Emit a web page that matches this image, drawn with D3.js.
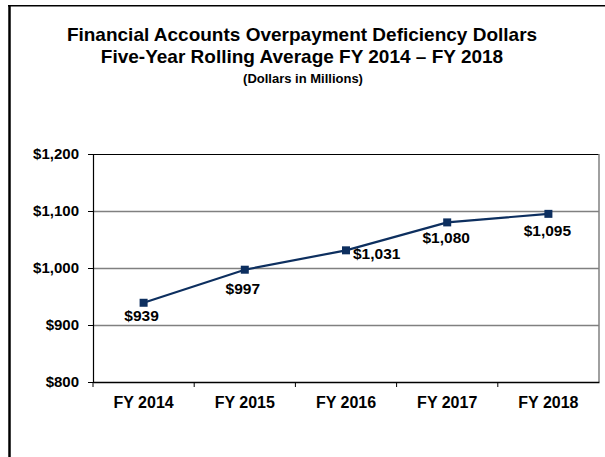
<!DOCTYPE html>
<html>
<head>
<meta charset="utf-8">
<script src="https://cdn.jsdelivr.net/npm/d3@7"></script>
<style>
  body { margin: 0; background: #fff; }
  text { font-family: "Liberation Sans", Arial, sans-serif; font-weight: bold; fill: #000; }
</style>
</head>
<body>
<div id="chart"></div>
<script>
// data
const years = ["FY 2014", "FY 2015", "FY 2016", "FY 2017", "FY 2018"];
const dollars = [939, 997, 1031, 1080, 1095];
const yTicks = [800, 900, 1000, 1100, 1200];
const titleLines = [
    "Financial Accounts Overpayment Deficiency Dollars",
    "Five-Year Rolling Average FY 2014 \u2013 FY 2018"
];
const subtitle = "(Dollars in Millions)";

// where each value label sits relative to its marker
const labelPlace = [
    {dx: -2, dy: 18, anchor: "middle"},
    {dx: -2, dy: 24, anchor: "middle"},
    {dx: 7, dy: 9, anchor: "start"},
    {dx: -1, dy: 21, anchor: "middle"},
    {dx: -1, dy: 22, anchor: "middle"}
];

const W = 605, H = 457;
const margin = {top: 154, right: 6, bottom: 75, left: 93};
const width = W - margin.left - margin.right;
const height = H - margin.top - margin.bottom;
const navy = "#0d2f5f";

const svg = d3.select("#chart").append("svg")
    .attr("width", W)
    .attr("height", H);

// outer frame (left and top edges only are visible)
svg.append("line")
    .attr("x1", 9.5).attr("x2", 9.5)
    .attr("y1", 5).attr("y2", H)
    .attr("stroke", "#000").attr("stroke-width", 2.5);
svg.append("line")
    .attr("x1", 8).attr("x2", W)
    .attr("y1", 5.8).attr("y2", 5.8)
    .attr("stroke", "#000").attr("stroke-width", 1.5);

// titles
svg.selectAll(".title")
    .data(titleLines)
    .enter().append("text")
    .attr("class", "title")
    .attr("x", 302)
    .attr("y", (d, i) => 41 + i * 22)
    .attr("text-anchor", "middle")
    .style("font-size", "19px")
    .text(d => d);

svg.append("text")
    .attr("x", 303)
    .attr("y", 83)
    .attr("text-anchor", "middle")
    .style("font-size", "13px")
    .text(subtitle);

const g = svg.append("g")
    .attr("transform", `translate(${margin.left}, ${margin.top})`);

const x = d3.scaleBand()
    .domain(years)
    .range([0, width]);

const y = d3.scaleLinear()
    .domain([800, 1200])
    .range([height, 0]);

// gridlines
g.selectAll(".grid")
    .data(yTicks.filter(d => d > 800 && d < 1200))
    .enter().append("line")
    .attr("class", "grid")
    .attr("x1", 0).attr("x2", width)
    .attr("y1", d => Math.round(y(d)) + 0.5)
    .attr("y2", d => Math.round(y(d)) + 0.5)
    .attr("stroke", "#808080")
    .attr("stroke-width", 1.5);

// top and right edges of the plot area
g.append("line")
    .attr("x1", 0).attr("x2", width)
    .attr("y1", 0.5).attr("y2", 0.5)
    .attr("stroke", "#000").attr("stroke-width", 1.2);
g.append("line")
    .attr("x1", width).attr("x2", width)
    .attr("y1", 0).attr("y2", height)
    .attr("stroke", "#808080").attr("stroke-width", 1.5);

// y axis
const yAxis = d3.axisLeft(y)
    .tickValues(yTicks)
    .tickSize(5)
    .tickPadding(9)
    .tickFormat(d => "$" + d3.format(",")(d));

g.append("g")
    .attr("class", "axis y-axis")
    .call(yAxis)
    .call(a => a.select(".domain").attr("stroke", "#000").attr("stroke-width", 1.2))
    .call(a => a.selectAll(".tick line").attr("stroke", "#000"))
    .call(a => a.selectAll("text").style("font-size", "15px").attr("font-family", null));

// x axis, ticks on band boundaries
const xAxis = d3.axisBottom(x)
    .tickSize(0)
    .tickPadding(15);

g.append("g")
    .attr("class", "axis x-axis")
    .attr("transform", `translate(0, ${height})`)
    .call(xAxis)
    .call(a => a.select(".domain").attr("stroke", "#000").attr("stroke-width", 1.5))
    .call(a => a.selectAll("text").style("font-size", "16px").attr("font-family", null));

g.append("g")
    .selectAll("line")
    .data(years)
    .enter().append("line")
    .attr("x1", d => x(d)).attr("x2", d => x(d))
    .attr("y1", height).attr("y2", height + 5)
    .attr("stroke", "#000");

// line
const cx = d => x(d) + x.bandwidth() / 2;
const line = d3.line()
    .x((d, i) => cx(years[i]))
    .y(d => y(d));

g.append("path")
    .datum(dollars)
    .attr("d", line)
    .attr("fill", "none")
    .attr("stroke", navy)
    .attr("stroke-width", 2.2);

// markers
const m = 8;
g.selectAll(".marker")
    .data(dollars)
    .enter().append("rect")
    .attr("class", "marker")
    .attr("x", (d, i) => cx(years[i]) - m / 2)
    .attr("y", d => y(d) - m / 2)
    .attr("width", m)
    .attr("height", m)
    .attr("fill", navy);

// value labels
g.selectAll(".val")
    .data(dollars)
    .enter().append("text")
    .attr("class", "val")
    .attr("x", (d, i) => cx(years[i]) + labelPlace[i].dx)
    .attr("y", (d, i) => y(d) + labelPlace[i].dy)
    .attr("text-anchor", (d, i) => labelPlace[i].anchor)
    .style("font-size", "15.5px")
    .text(d => "$" + d3.format(",")(d));
</script>
</body>
</html>
